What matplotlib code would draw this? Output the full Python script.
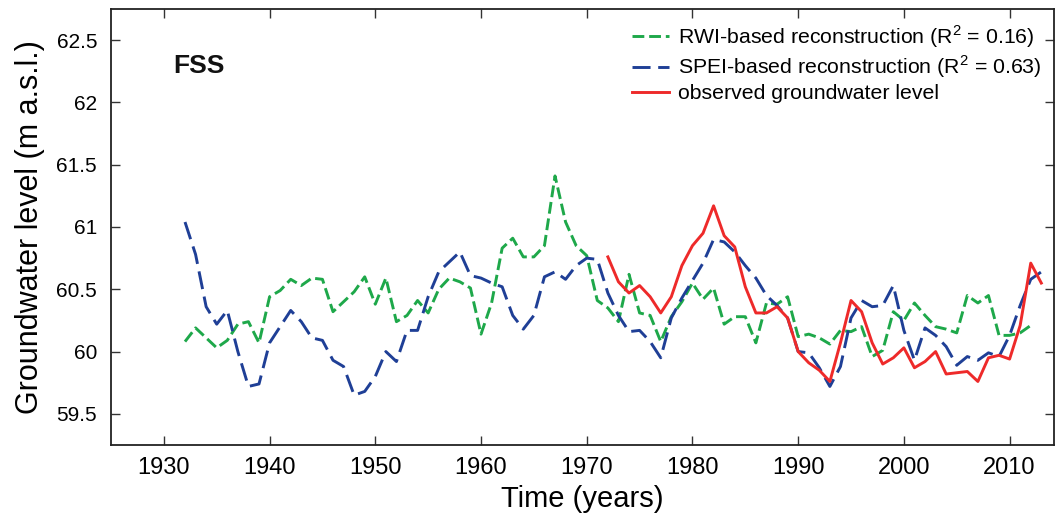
import matplotlib
matplotlib.use("Agg")
import matplotlib.pyplot as plt
from matplotlib.ticker import FuncFormatter

plt.rcParams['font.family'] = ['Liberation Sans', 'DejaVu Sans']
plt.rcParams['lines.scale_dashes'] = False
plt.rcParams['mathtext.fontset'] = 'custom'
plt.rcParams['mathtext.rm'] = 'Liberation Sans'

# ---- data ----
rwi_years = list(range(1932, 2013))
rwi_values = [60.08, 60.19, 60.11, 60.03, 60.09, 60.22, 60.24, 60.07, 60.44, 60.49,
              60.58, 60.53, 60.59, 60.58, 60.32, 60.40, 60.48, 60.60, 60.38, 60.59,
              60.24, 60.29, 60.41, 60.31, 60.50, 60.59, 60.56, 60.51, 60.14, 60.39,
              60.83, 60.91, 60.76, 60.76, 60.85, 61.41, 61.04, 60.85, 60.77, 60.41,
              60.35, 60.24, 60.62, 60.31, 60.29, 60.08, 60.28, 60.40, 60.55, 60.42,
              60.51, 60.22, 60.28, 60.28, 60.07, 60.39, 60.38, 60.44, 60.12, 60.14,
              60.11, 60.06, 60.17, 60.16, 60.20, 59.96, 60.01, 60.32, 60.25, 60.39,
              60.29, 60.20, 60.18, 60.15, 60.45, 60.39, 60.45, 60.13, 60.13, 60.15,
              60.21]

spei_years = list(range(1932, 2014))
spei_values = [61.04, 60.78, 60.36, 60.22, 60.33, 60.00, 59.72, 59.74, 60.07, 60.20,
               60.33, 60.24, 60.11, 60.09, 59.93, 59.88, 59.65, 59.68, 59.80, 60.00,
               59.92, 60.17, 60.17, 60.44, 60.64, 60.72, 60.80, 60.61, 60.59, 60.55,
               60.52, 60.29, 60.18, 60.29, 60.60, 60.64, 60.58, 60.69, 60.75, 60.74,
               60.47, 60.29, 60.16, 60.17, 60.08, 59.95, 60.27, 60.43, 60.57, 60.71,
               60.90, 60.88, 60.80, 60.69, 60.59, 60.45, 60.37, 60.27, 60.00, 59.99,
               59.87, 59.72, 59.88, 60.27, 60.41, 60.36, 60.37, 60.53, 60.17, 59.93,
               60.19, 60.13, 60.04, 59.89, 59.96, 59.93, 59.99, 59.96, 60.13, 60.37,
               60.58, 60.64]

obs_years = list(range(1972, 2014))
obs_values = [60.76, 60.56, 60.47, 60.53, 60.44, 60.31, 60.44, 60.69, 60.85, 60.95,
              61.17, 60.93, 60.84, 60.52, 60.31, 60.31, 60.36, 60.27, 60.00, 59.91,
              59.85, 59.76, 60.07, 60.41, 60.32, 60.07, 59.90, 59.95, 60.03, 59.87,
              59.92, 60.00, 59.82, 59.83, 59.84, 59.76, 59.95, 59.97, 59.94, 60.21,
              60.71, 60.55]

x_ticks = [1930, 1940, 1950, 1960, 1970, 1980, 1990, 2000, 2010]
y_ticks = [59.5, 60, 60.5, 61, 61.5, 62, 62.5]

labels = ['RWI-based reconstruction (R$^2$ = 0.16)',
          'SPEI-based reconstruction (R$^2$ = 0.63)',
          'observed groundwater level']

green = '#1ea84a'
blue = '#1f3f96'
red = '#ee2a2a'

fig = plt.figure(figsize=(10.56, 5.21), dpi=100)
ax = fig.add_axes([111/1056, 1-445/521, (1054-111)/1056, (445-9)/521])

ax.plot(rwi_years, rwi_values, color=green, lw=2.1, linestyle=(0, (8.5, 3.5)), label=labels[0])
ax.plot(spei_years, spei_values, color=blue, lw=2.1, linestyle=(0, (13, 5.5)), label=labels[1])
ax.plot(obs_years, obs_values, color=red, lw=2.1, linestyle='-', label=labels[2])

ax.set_xlim(1925.0, 2014.2)
ax.set_ylim(59.25, 62.75)
ax.set_xticks(x_ticks)
ax.set_yticks(y_ticks)
ax.yaxis.set_major_formatter(FuncFormatter(lambda v, p: f'{v:g}'))

ax.tick_params(axis='both', direction='in', length=6.5, width=1.0,
               top=True, right=True, color='#333333')
ax.tick_params(axis='x', labelsize=17, pad=9)
ax.tick_params(axis='y', labelsize=15, pad=10)
for s in ax.spines.values():
    s.set_linewidth(1.3)
    s.set_color('#222222')

ax.set_xlabel('Time (years)', fontsize=21, labelpad=4)
ax.set_ylabel('Groundwater level (m a.s.l.)', fontsize=22, labelpad=8)

ax.text(0.0657, 0.853, 'FSS', transform=ax.transAxes, fontsize=19,
        fontweight='bold', va='baseline', ha='left', color='#111111')

leg = ax.legend(loc='upper left', bbox_to_anchor=(0.5525, 0.967), frameon=False,
                fontsize=15.3, handlelength=1.75, handletextpad=0.4,
                labelspacing=0.18, borderpad=0, borderaxespad=0)

fig.savefig('out.png', dpi=100)
